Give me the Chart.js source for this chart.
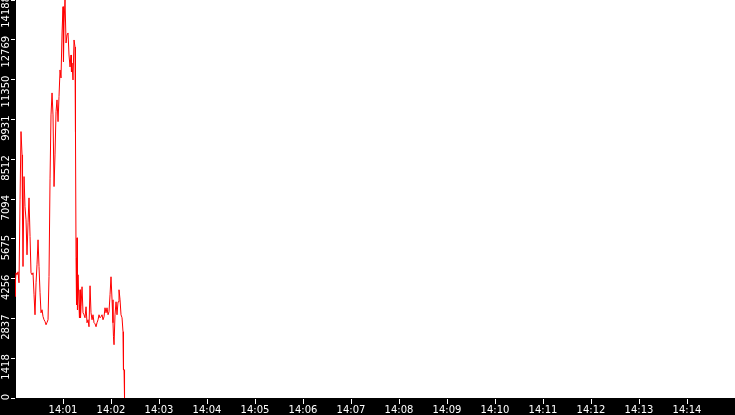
<!DOCTYPE html>
<html>
<head>
<meta charset="utf-8">
<script src="https://cdn.jsdelivr.net/npm/chart.js@4/dist/chart.umd.min.js"></script>
<style>
  html, body { margin: 0; padding: 0; background: #000; }
  #wrap { width: 735px; height: 415px; }
</style>
</head>
<body>
<div id="wrap"><canvas id="rateChart" width="735" height="415"></canvas></div>
<script>
// seconds after 14:00:00
var sampleSeconds = [
  0, 0.6, 1.3, 2.5, 3.8, 5, 6.3, 7.5, 8.8, 9.4, 10, 11.3, 12.5, 13.8, 15, 16.3, 17.5, 18.8,
  20, 21.3, 22.5, 23.8, 25, 26.3, 27.5, 28.8, 30, 31.3, 32.5, 33.8, 35, 36.3, 37.5, 38.8,
  40, 41.3, 42.5, 43.8, 45, 46.3, 47.5, 48.8, 50, 51.3, 52.5, 53.8, 55, 56.3, 57.5, 58.8,
  60, 60.6, 61.3, 62.5, 63.8, 65, 66.3, 67.5, 68.8, 70, 70.6, 71.3, 72.5, 73.8, 75, 75.6,
  76.3, 76.9, 77.5, 78.1, 78.8, 80, 80.6, 81.3, 81.9, 82.5, 83.8, 85, 86.3, 87.5, 88.8,
  90, 91.3, 92.5, 93.8, 95, 96.3, 97.5, 98.8, 100, 101.3, 102.5, 103.8, 105, 106.3, 107.5,
  108.8, 110, 111.3, 112.5, 113.8, 115, 116.3, 117.5, 118.8, 120, 121.3, 122.5, 123.1,
  123.8, 125, 126.3, 127.5, 128.8, 130, 131.3, 132.5, 133.8, 135, 135.6, 136.3, 136.9
];
var sampleValues = [
  3619, 4210, 4463, 4392, 4499, 4107, 7067, 9497, 8666, 6351, 4688, 7893, 6825, 6351, 5104, 6244, 7134, 5756,
  4463, 4392, 4463, 3680, 2967, 4107, 4748, 5639, 4688, 3751, 3038, 3145, 2907, 2789, 2728, 2611,
  2693, 2789, 4331, 7811, 10091, 10875, 10091, 7537, 8666, 10209, 10626, 9852, 10743, 11694, 11409, 13012,
  13949, 11990, 13368, 14188, 12656, 12941, 13013, 12228, 11801, 12228, 11623, 11943, 11338, 12763, 12513, 9486,
  4997, 3323, 5710, 3145, 4392, 3323, 2860, 3858, 2860, 3252, 3965, 3038, 2967, 2860, 3252,
  2682, 2789, 2540, 4000, 3038, 2789, 2967, 2682, 2647, 2540, 2682, 2789, 2967, 2860, 2896,
  2967, 2789, 2896, 3216, 3038, 3216, 2967, 3074, 3680, 4321, 3501, 2682, 2183,
  1899, 2967, 3430, 2967, 3430, 3858, 3501, 2967, 2860, 2361, 1007, 1007, 0
];

var yTicks = [0, 1418, 2837, 4256, 5675, 7094, 8512, 9931, 11350, 12769, 14188];
var xTickSeconds = [60, 120, 180, 240, 300, 360, 420, 480, 540, 600, 660, 720, 780, 840];
var xTickLabels = ['14:01', '14:02', '14:03', '14:04', '14:05', '14:06', '14:07',
                   '14:08', '14:09', '14:10', '14:11', '14:12', '14:13', '14:14'];
var xMin = 0, xMax = 900;
var yMax = 14188;

var points = [];
for (var i = 0; i < sampleValues.length; i++) {
  points.push({ x: sampleSeconds[i], y: sampleValues[i] });
}

// white plot area on black canvas
var plotBackground = {
  id: 'plotBackground',
  beforeDraw: function (chart) {
    var a = chart.chartArea;
    var ctx = chart.ctx;
    ctx.save();
    ctx.fillStyle = '#000';
    ctx.fillRect(0, 0, chart.width, chart.height);
    ctx.fillStyle = '#fff';
    ctx.fillRect(a.left, a.top, a.right - a.left, a.bottom - a.top);
    ctx.restore();
  }
};

var tickFont = { family: 'DejaVu Sans', size: 10 };

var ctx = document.getElementById('rateChart').getContext('2d');
var myChart = new Chart(ctx, {
  type: 'line',
  data: {
    datasets: [{
      data: points,
      borderColor: '#ff0000',
      borderWidth: 1,
      pointRadius: 0,
      tension: 0,
      fill: false
    }]
  },
  options: {
    responsive: false,
    animation: false,
    devicePixelRatio: 1,
    layout: { padding: 0 },
    plugins: {
      legend: { display: false },
      tooltip: { enabled: false }
    },
    scales: {
      x: {
        type: 'linear',
        min: xMin,
        max: xMax,
        afterBuildTicks: function (scale) {
          scale.ticks = xTickSeconds.map(function (v) { return { value: v }; });
        },
        afterFit: function (scale) {
          scale.height = 17;
          scale.paddingLeft = 0; scale.paddingRight = 0;
          scale.paddingTop = 0; scale.paddingBottom = 0;
        },
        ticks: {
          color: '#fff',
          font: tickFont,
          padding: 0,
          autoSkip: false,
          maxRotation: 0,
          minRotation: 0,
          callback: function (value) {
            var k = xTickSeconds.indexOf(value);
            return k >= 0 ? xTickLabels[k] : '';
          }
        },
        grid: { drawOnChartArea: false, color: '#fff', tickLength: 6 },
        border: { color: '#000', width: 1 }
      },
      y: {
        min: 0,
        max: yMax,
        afterBuildTicks: function (scale) {
          scale.ticks = yTicks.map(function (v) { return { value: v }; });
        },
        afterFit: function (scale) {
          scale.width = 15;
          scale.paddingLeft = 0; scale.paddingRight = 0;
          scale.paddingTop = 0; scale.paddingBottom = 0;
        },
        ticks: {
          color: '#fff',
          font: tickFont,
          padding: 5,
          minRotation: 90,
          maxRotation: 90,
          labelOffset: -4,
          callback: function (value) { return String(value); }
        },
        grid: { drawOnChartArea: false, color: '#fff', tickLength: 4 },
        border: { color: '#000', width: 1 }
      }
    }
  },
  plugins: [plotBackground]
});
</script>
</body>
</html>
